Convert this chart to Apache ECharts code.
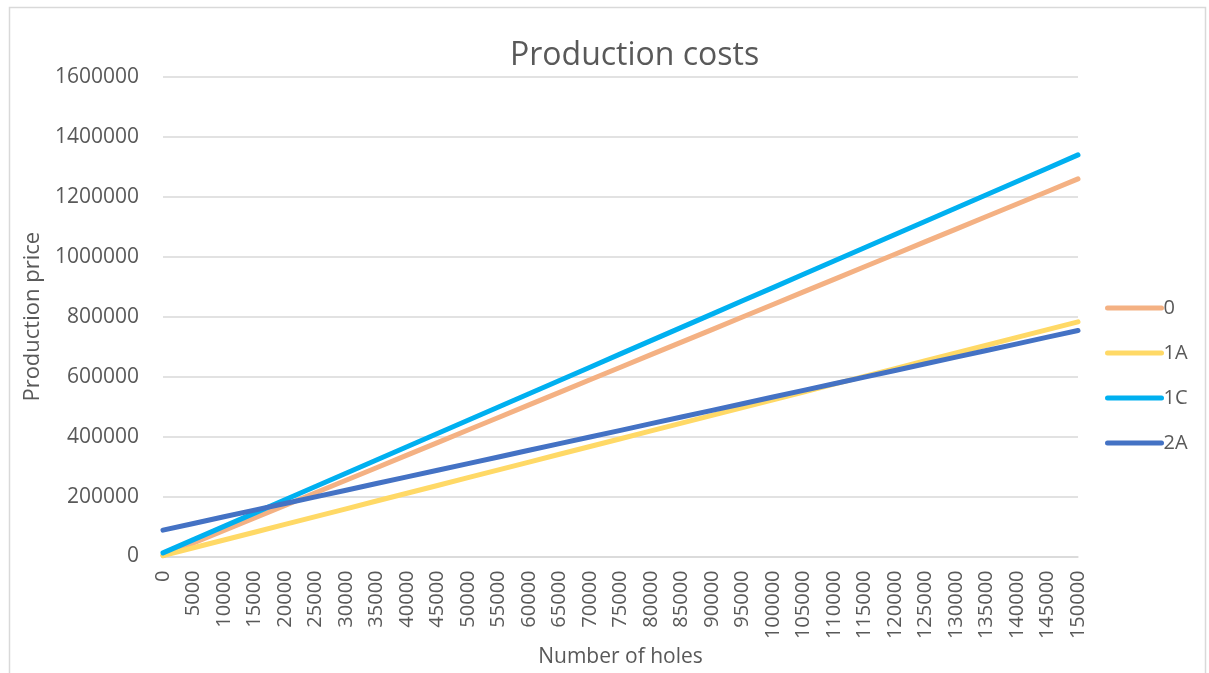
<!DOCTYPE html>
<html>
<head>
<meta charset="utf-8">
<script src="https://cdn.jsdelivr.net/npm/echarts@6/dist/echarts.min.js"></script>
<style>
html,body{margin:0;padding:0;background:#fff;}
#c{width:1209px;height:673px;}
</style>
</head>
<body>
<div id="c"></div>
<script>
var holes = ['0','5000','10000','15000','20000','25000','30000','35000','40000','45000','50000','55000','60000','65000','70000','75000','80000','85000','90000','95000','100000','105000','110000','115000','120000','125000','130000','135000','140000','145000','150000'];
var s0 = [3000,44900,86800,128700,170600,212500,254400,296300,338200,380100,422000,463900,505800,547700,589600,631500,673400,715300,757200,799100,841000,882900,924800,966700,1008600,1050500,1092400,1134300,1176200,1218100,1260000];
var s1A = [3000,29000,55000,81000,107000,133000,159000,185000,211000,237000,263000,289000,315000,341000,367000,393000,419000,445000,471000,497000,523000,549000,575000,601000,627000,653000,679000,705000,731000,757000,783000];
var s1C = [12000,56300,100500,144800,189100,233300,277600,321900,366100,410400,454700,498900,543200,587500,631700,676000,720300,764500,808800,853100,897300,941600,985900,1030100,1074400,1118700,1162900,1207200,1251500,1295700,1340000];
var s2A = [88000,110200,132400,154600,176800,199000,221200,243400,265600,287800,310000,332200,354400,376600,398800,421000,443200,465400,487600,509800,532000,554200,576400,598600,620800,643000,665200,687400,709600,731800,754000];
var seriesNames = ['0','1A','1C','2A'];
var colors = ['#F4B183','#FFD966','#00B0F0','#4472C4'];
var seriesData = [s0, s1A, s1C, s2A];

var FONT = '"Open Sans", "Liberation Sans", sans-serif';
var chart = echarts.init(document.getElementById('c'), null, {renderer:'canvas'});
chart.setOption({
  animation: false,
  textStyle: {fontFamily: FONT, color: '#595959'},
  graphic: [{
    type: 'rect', left: 7, top: 5,
    shape: {width: 1196, height: 700},
    style: {fill: 'none', stroke: '#d9d9d9', lineWidth: 1.5},
    silent: true
  }],
  title: {
    text: 'Production costs', left: 505, top: 35,
    textStyle: {fontFamily: FONT, fontSize: 32, fontWeight: 'normal', color: '#595959'}
  },
  legend: {
    orient: 'vertical', left: 1100, top: 293,
    itemWidth: 54, itemHeight: 20, itemGap: 25,
    data: seriesNames,
    itemStyle: {opacity: 0},
    lineStyle: {width: 5, cap: 'round'},
    textStyle: {fontFamily: FONT, fontSize: 20, color: '#595959', padding: [0,0,0,-3]}
  },
  grid: {left: 163, right: 131, top: 77, bottom: 116, containLabel: false},
  xAxis: {
    type: 'category', data: holes, boundaryGap: false,
    name: 'Number of holes', nameLocation: 'middle', nameGap: 88,
    nameTextStyle: {fontFamily: FONT, fontSize: 21, color: '#595959'},
    axisLine: {show: true, lineStyle: {color: '#d9d9d9', width: 1.5}},
    axisTick: {show: false},
    axisLabel: {interval: 0, rotate: 90, margin: 14, fontFamily: FONT, fontSize: 20, color: '#595959'},
    splitLine: {show: false}
  },
  yAxis: {
    type: 'value', min: 0, max: 1600000, interval: 200000,
    name: 'Production price', nameLocation: 'middle', nameGap: 110,
    nameTextStyle: {fontFamily: FONT, fontSize: 22, color: '#595959'},
    axisLine: {show: false}, axisTick: {show: false},
    axisLabel: {margin: 24, fontFamily: FONT, fontSize: 21, color: '#595959',
      formatter: function(v){ return String(v); }},
    splitLine: {show: true, lineStyle: {color: '#d9d9d9', width: 1.5}}
  },
  series: seriesNames.map(function(n, i){
    return {
      name: n, type: 'line', data: seriesData[i],
      showSymbol: false, symbol: 'none',
      itemStyle: {color: colors[i]},
      lineStyle: {color: colors[i], width: 5, cap: 'round', join: 'round'},
      emphasis: {disabled: true}
    };
  })
});
</script>
</body>
</html>
